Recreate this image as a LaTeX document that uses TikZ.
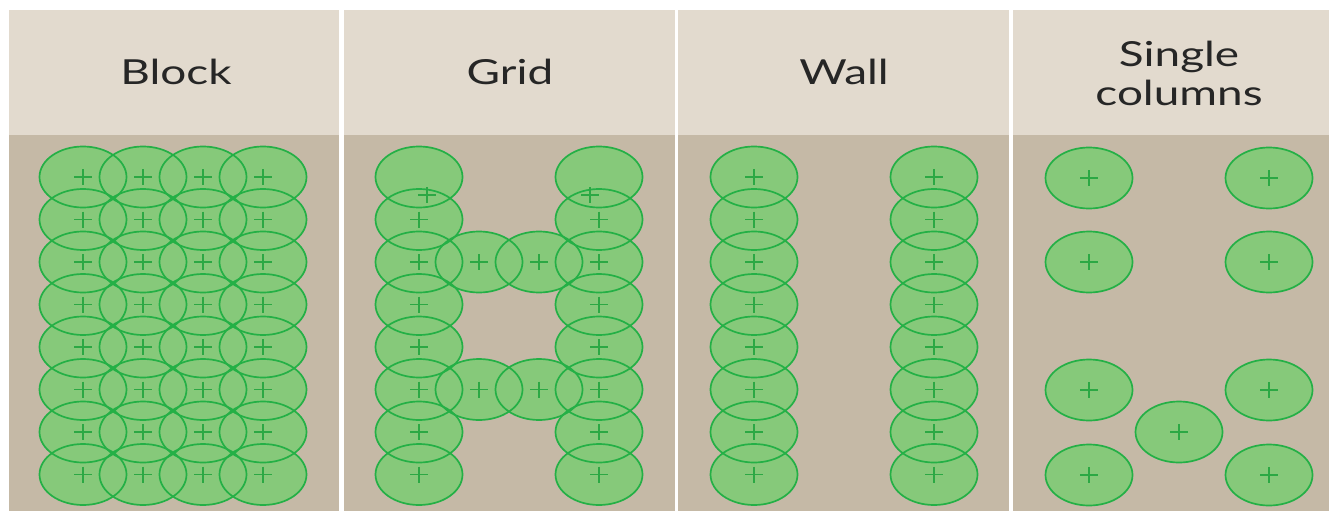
\documentclass[tikz,border=0pt]{standalone}
\usepackage{fontspec}
\setmainfont{Lato}
\usetikzlibrary{shapes.geometric}

\definecolor{headtan}{RGB}{226,218,206}
\definecolor{bodytan}{RGB}{197,185,166}
\definecolor{pilefill}{RGB}{134,201,122}
\definecolor{rim}{RGB}{36,176,70}
\definecolor{pinc}{RGB}{44,168,68}

\pgfdeclarelayer{panels}
\pgfdeclarelayer{under}
\pgfsetlayers{panels,under,main}

\newcommand{\wide}[1]{\scalebox{1.33}[1]{#1}}

\begin{document}
\begin{tikzpicture}[
  x=1pt,y=-1pt,
  title/.style={font=\fontsize{34.5}{40}\selectfont,text=black!85,align=center,inner sep=0pt},
  pile/.style={ellipse,draw=rim,line width=1.7pt,minimum width=87pt,minimum height=61pt,inner sep=0pt},
  pinline/.style={draw=pinc,line width=1.1pt},
  pin/.pic={\draw[pinline] (-9,0) -- (9,0) (0,-8) -- (0,8);}
]
\useasboundingbox (0,0) rectangle (1329,511);

% panels
\begin{pgfonlayer}{panels}
\fill[white] (0,0) rectangle (1329,511);
\foreach \px/\pw in {9/330,344/331,678/331,1013/316} {
  \fill[headtan] (\px,10) rectangle ++(\pw,125);
  \fill[bodytan] (\px,135) rectangle ++(\pw,376);
}
\end{pgfonlayer}

% headings
\node[title] (t-block) at (176,72) {\wide{Block}};
\node[title] (t-grid) at (510,72) {\wide{Grid}};
\node[title] (t-wall) at (844,72) {\wide{Wall}};
\node[title] (t-single) at (1179,73) {\wide{Single}\\[-1pt]\wide{columns}};

% block: 4 x 8
\foreach \x [count=\c] in {83,143,203,263} {
  \foreach \r in {1,...,8} {
    \pgfmathsetmacro{\y}{177+42.5*(\r-1)}
    \node[pile] (blk-\c-\r) at (\x,\y) {};
    \begin{pgfonlayer}{under}\fill[pilefill] (blk-\c-\r.center) ellipse (43.5 and 30.5);\end{pgfonlayer}
    \pic at (blk-\c-\r.center) {pin};
  }
}

% grid: two columns and two links
\foreach \x/\s in {419/l,599/r} {
  \foreach \r in {1,...,8} {
    \pgfmathsetmacro{\y}{177+42.5*(\r-1)}
    \node[pile] (grd-\s-\r) at (\x,\y) {};
    \begin{pgfonlayer}{under}\fill[pilefill] (grd-\s-\r.center) ellipse (43.5 and 30.5);\end{pgfonlayer}
  }
  \foreach \r in {2,...,8} {\pic at (grd-\s-\r.center) {pin};}
}
\pic at (427,195) {pin};
\pic at (590,195) {pin};
\foreach \x/\s in {479/a,539/b} {
  \foreach \y/\r in {262/3,389.5/6} {
    \node[pile] (lnk-\s-\r) at (\x,\y) {};
    \begin{pgfonlayer}{under}\fill[pilefill] (lnk-\s-\r.center) ellipse (43.5 and 30.5);\end{pgfonlayer}
    \pic at (lnk-\s-\r.center) {pin};
  }
}

% wall
\foreach \x/\s in {754/l,934/r} {
  \foreach \r in {1,...,8} {
    \pgfmathsetmacro{\y}{177+42.5*(\r-1)}
    \node[pile] (wal-\s-\r) at (\x,\y) {};
    \begin{pgfonlayer}{under}\fill[pilefill] (wal-\s-\r.center) ellipse (43.5 and 30.5);\end{pgfonlayer}
    \pic at (wal-\s-\r.center) {pin};
  }
}

% single columns
\foreach \x/\y/\n in {1089/178/a,1269/178/b,1089/262/c,1269/262/d,1089/390/e,1269/390/f,1179/432/g,1089/475/h,1269/475/i} {
  \node[pile] (sgl-\n) at (\x,\y) {};
  \begin{pgfonlayer}{under}\fill[pilefill] (sgl-\n.center) ellipse (43.5 and 30.5);\end{pgfonlayer}
  \pic at (sgl-\n.center) {pin};
}
\end{tikzpicture}
\end{document}
